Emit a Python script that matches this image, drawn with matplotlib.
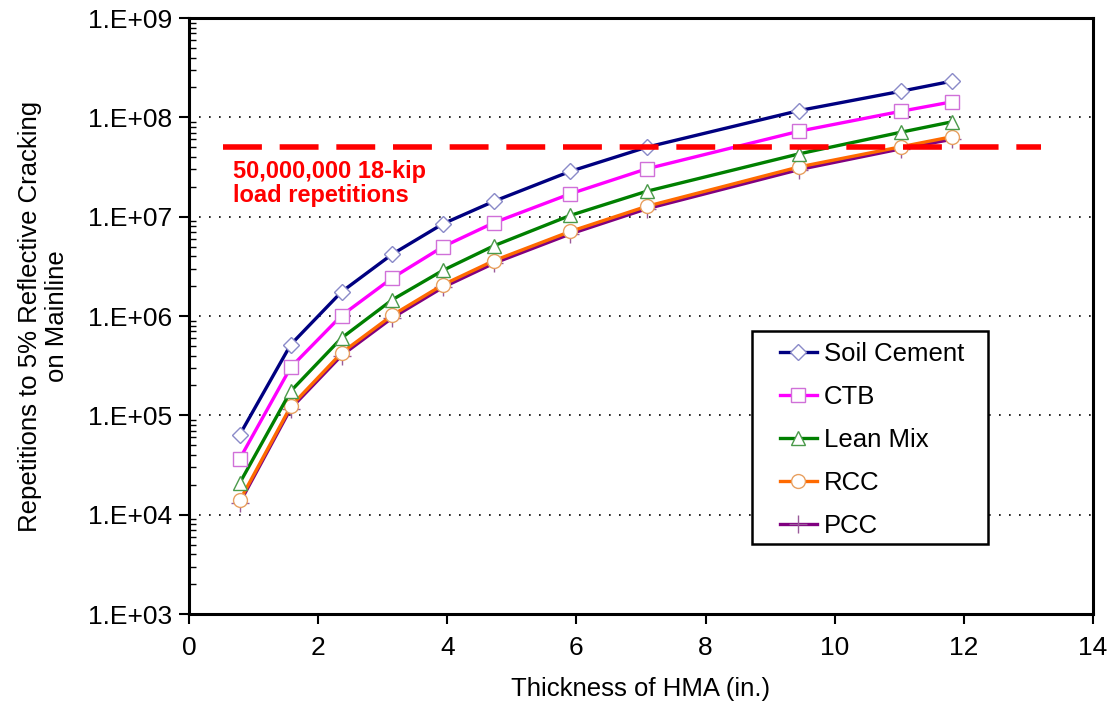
import matplotlib
matplotlib.use("Agg")
import matplotlib.pyplot as plt
import numpy as np
from matplotlib.patches import Rectangle
from matplotlib.ticker import LogLocator, FixedLocator, NullFormatter, FuncFormatter

plt.rcParams['font.family'] = ['Liberation Sans', 'DejaVu Sans']

thickness_in = [0.787, 1.575, 2.362, 3.150, 3.937, 4.724, 5.906, 7.087, 9.449, 11.024, 11.811]

soil_cement = [6.4e4, 5.15e5, 1.75e6, 4.2e6, 8.5e6, 1.43e7, 2.86e7, 5.0e7, 1.17e8, 1.83e8, 2.31e8]
ctb = [3.66e4, 3.04e5, 1.01e6, 2.42e6, 5.0e6, 8.7e6, 1.70e7, 3.03e7, 7.25e7, 1.15e8, 1.43e8]
lean_mix = [2.09e4, 1.75e5, 6.0e5, 1.46e6, 2.89e6, 5.1e6, 1.03e7, 1.80e7, 4.29e7, 7.08e7, 9.0e7]
rcc = [1.39e4, 1.23e5, 4.25e5, 1.02e6, 2.07e6, 3.61e6, 7.1e6, 1.27e7, 3.17e7, 5.05e7, 6.37e7]
pcc = [1.32e4, 1.17e5, 4.0e5, 9.6e5, 1.95e6, 3.4e6, 6.7e6, 1.20e7, 2.98e7, 4.82e7, 6.0e7]

target_reps = 5.0e7
target_x = [0.53, 13.2]

W, H = 1112, 709
L, R, T, B = 189, 1093, 18, 614
fig = plt.figure(figsize=(W/100, H/100), dpi=100)
ax = fig.add_axes([L/W, 1 - B/H, (R - L)/W, (B - T)/H])

def ax_x(px):
    return (px - L) / (R - L)

def ax_y(py):
    return 1 - (py - T) / (B - T)

series = [
    ("Soil Cement", soil_cement, "#000080", "D", "#8a8ac8", 8.5),
    ("CTB", ctb, "#ff00ff", "s", "#d070d8", 9.5),
    ("Lean Mix", lean_mix, "#008000", "^", "#4a9a4a", 10),
    ("RCC", rcc, "#ff6a00", "o", "#e8a060", 10),
    ("PCC", pcc, "#800080", "+", "#9a5a9a", 13),
]
for name, vals, col, mk, mec, ms in series[::-1]:
    ax.plot(thickness_in, vals, color=col, lw=2.4, marker=mk, markersize=ms,
            markerfacecolor="white" if mk != "+" else col, markeredgecolor=mec,
            markeredgewidth=1.0, label=name, zorder=3)

ax.plot(target_x, [target_reps, target_reps], color="#ff0000", lw=4,
        dashes=(7, 3.2), zorder=4)
ax.text(0.68, 3.7e7, "50,000,000 18-kip\nload repetitions", color="#ff0000",
        fontsize=17, fontweight="bold", va="top", ha="left", linespacing=1.05)

ax.set_yscale("log")
ax.set_xlim(0, 14)
ax.set_ylim(1e3, 1e9)
ax.set_xticks(np.arange(0, 15, 2))
ax.yaxis.set_major_locator(FixedLocator([10.0**k for k in range(3, 10)]))
ax.yaxis.set_major_formatter(FuncFormatter(lambda v, p: "1.E+%02d" % int(round(np.log10(v)))))
ax.yaxis.set_minor_locator(LogLocator(base=10, subs=np.arange(2, 10), numticks=20))
ax.yaxis.set_minor_formatter(NullFormatter())

ax.tick_params(axis="both", which="major", direction="out", length=7, width=1.5,
               labelsize=19, colors="black")
ax.tick_params(axis="y", which="minor", direction="in", length=5, width=1.0)
ax.tick_params(axis="x", which="major", pad=9)
ax.tick_params(axis="y", which="major", pad=5)

for s in ax.spines.values():
    s.set_linewidth(2.2)
    s.set_color("black")

for k in range(4, 9):
    ax.axhline(10.0**k, color="black", lw=1.2, ls=(0, (1, 5)), zorder=1)

ax.set_xlabel("Thickness of HMA (in.)", fontsize=18.5, labelpad=12)
ax.set_ylabel("Repetitions to 5% Reflective Cracking\non Mainline", fontsize=18.5,
              labelpad=14, linespacing=1.15)

# legend box
x0, x1, y0, y1 = ax_x(752), ax_x(988), ax_y(544), ax_y(331)
ax.add_patch(Rectangle((x0, y0), x1 - x0, y1 - y0, transform=ax.transAxes,
                       facecolor="white", edgecolor="black", lw=1.8, zorder=6))

handles, labels = ax.get_legend_handles_labels()
leg = ax.legend(handles[::-1], labels[::-1], loc="upper left",
                bbox_to_anchor=(ax_x(780), ax_y(342)),
                fontsize=18.5, frameon=False,
                handlelength=1.43, handletextpad=0.27, labelspacing=0.74,
                borderpad=0, borderaxespad=0)
leg.set_zorder(7)

fig.savefig("out.png", dpi=100, facecolor="white")
